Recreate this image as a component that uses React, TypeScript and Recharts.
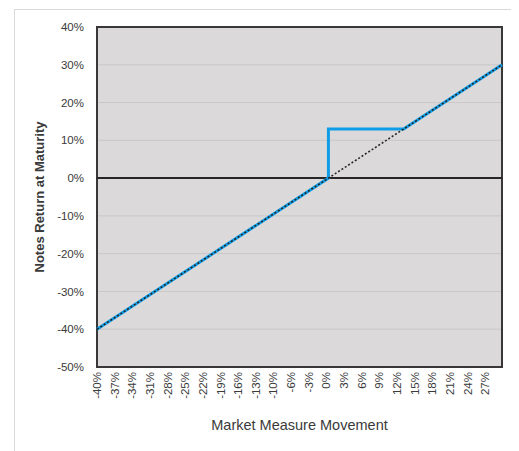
import React from 'react';
import {LineChart, Line, XAxis, YAxis, CartesianGrid, ReferenceLine, ReferenceArea} from 'recharts';

// market measure movement (%) vs notes return (%)
const PAYOFF_MOVE = [-40, 0, 0, 13, 30];
const PAYOFF_RETURN = [-40, 0, 13, 13, 30];
const UNDERLYING_MOVE = [-40, 30];
const UNDERLYING_RETURN = [-40, 30];

const X_LABELS = ['-40%', '-37%', '-34%', '-31%', '-28%', '-25%', '-22%', '-19%', '-16%', '-13%', '-10%', '-6%',
	'-3%', '0%', '3%', '6%', '9%', '12%', '15%', '18%', '21%', '24%', '27%'];
const Y_TICKS = [-50, -40, -30, -20, -10, 0, 10, 20, 30, 40];

const TICK_STEP = 3.05; // spacing of the category labels along the axis
const X_TICKS = X_LABELS.map((_, i) => -40 + i * TICK_STEP);

const payoff = PAYOFF_MOVE.map((m, i) => ({move: m, ret: PAYOFF_RETURN[i]}));
const underlying = UNDERLYING_MOVE.map((m, i) => ({move: m, ret: UNDERLYING_RETURN[i]}));

const FONT = '"Liberation Sans", Arial, sans-serif';
const TEXT = '#3a3a3a';

const XTick = (props: any) => {
	const {x, y, index} = props;
	return (
		<g transform={`translate(${x},${y})`}>
			<text transform="rotate(-90)" x={-5} y={0} dy="0.35em" textAnchor="end" fontSize={11.5} fontFamily={FONT} fill={TEXT}>
				{X_LABELS[index]}
			</text>
		</g>
	);
};

const App = () => {
	return (
		<div style={{position: 'relative', left: 6, top: 1, width: 498, height: 442, borderTop: '1px solid #d9d9d9', borderLeft: '1px solid #d9d9d9', borderRight: '1px solid #d9d9d9'}}>
			<LineChart width={498} height={441} margin={{top: 17, right: 11, bottom: 0, left: 0}}>
				<CartesianGrid vertical={false} fill={'#dbd9da'} stroke={'#c9c7c8'} horizontalValues={Y_TICKS}/>
				<XAxis type={'number'} dataKey={'move'} domain={[-40, 30]} ticks={X_TICKS} interval={0} height={84}
					   axisLine={false} tickLine={false} tickSize={0} tickMargin={0} tick={<XTick/>}
					   label={() => (
						   <text x={284.5} y={420} textAnchor="middle" fontSize={14.5} fontFamily={FONT} fill={TEXT}>
							   Market Measure Movement
						   </text>
					   )}/>
				<YAxis type={'number'} domain={[-50, 40]} ticks={Y_TICKS} interval={0} width={82}
					   axisLine={false} tickLine={false} tickSize={5} tickMargin={8}
					   tick={{fontSize: 11.5, fontFamily: FONT, fill: TEXT}} tickFormatter={(v: number) => `${v}%`}
					   label={() => (
						   <text x={29} y={187} transform="rotate(-90 29 187)" textAnchor="middle" fontSize={13}
								 fontWeight={'bold'} fontFamily={FONT} fill={TEXT}>
							   Notes Return at Maturity
						   </text>
					   )}/>
				<ReferenceArea x1={-40} x2={30} y1={-50} y2={40} fill={'none'} stroke={'#383838'} strokeWidth={2} fillOpacity={0}/>
				<ReferenceLine y={0} stroke={'#262626'} strokeWidth={2}/>
				<Line data={payoff} dataKey={'ret'} type={'linear'} stroke={'#0f9de8'} strokeWidth={3} dot={false} isAnimationActive={false}/>
				<Line data={underlying} dataKey={'ret'} type={'linear'} stroke={'#262626'} strokeWidth={1.6} strokeDasharray={'2 2'} dot={false} isAnimationActive={false}/>
			</LineChart>
		</div>
	);
};

export default App;
